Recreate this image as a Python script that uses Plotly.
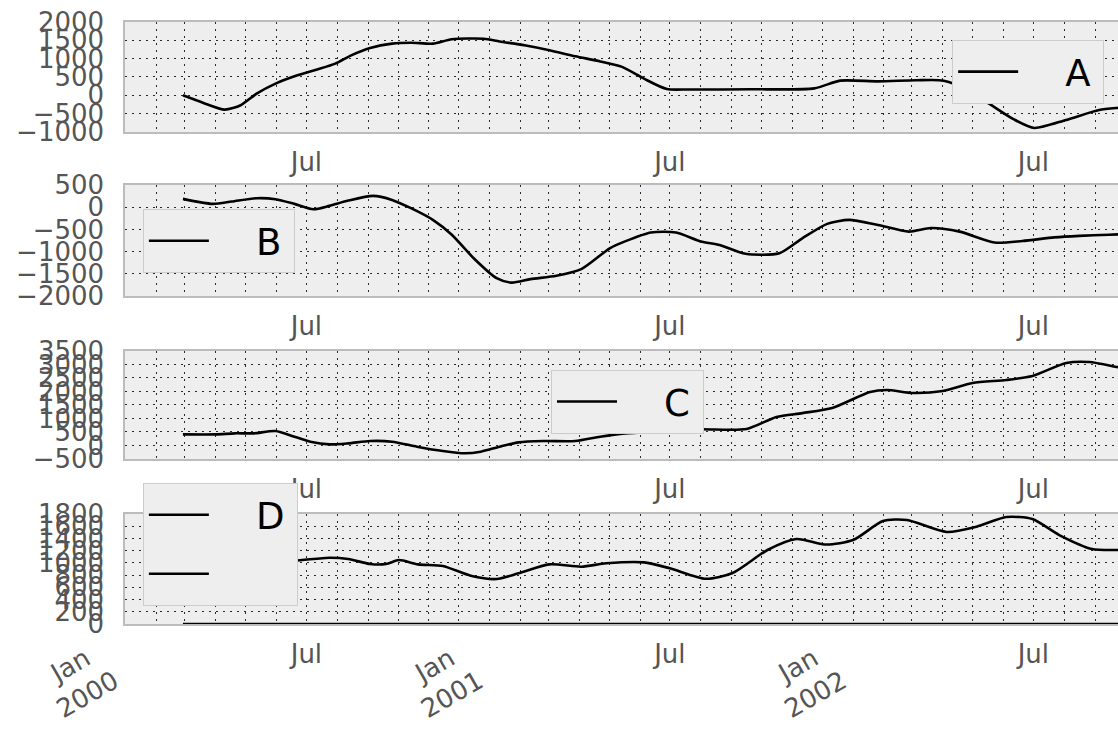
import pandas as pd
import plotly.graph_objects as go

START = "2000-01-01"

# ---- data (days since 2000-01-01, values) ----
A_days = [58, 78, 100, 116, 132, 151, 173, 192, 211, 227, 246, 268, 287, 309, 328, 360, 376, 401, 426,
          452, 477, 499, 521, 544, 566, 629, 692, 718, 756, 794, 822, 846, 871, 892, 913, 945, 978, 996, 999]
A_vals = [0, -200, -390, -270, 45, 320, 545, 700, 865, 1090, 1290, 1410, 1435, 1410, 1530, 1545, 1470, 1365, 1230,
          1065, 925, 775, 455, 170, 160, 165, 190, 400, 380, 410, 400, 150, -290, -650, -890, -670, -400, -345, -340]

B_days = [58, 88, 107, 132, 151, 170, 189, 205, 224, 249, 268, 287, 309, 328, 350, 373, 388, 407, 433, 458,
          487, 502, 528, 553, 578, 597, 623, 657, 680, 705, 727, 756, 787, 809, 838, 873, 901, 933, 958, 988, 999]
B_vals = [188, 75, 128, 203, 180, 75, -45, 30, 150, 255, 165, -22, -285, -620, -1150, -1600, -1700, -1620, -1545, -1395,
          -920, -770, -570, -570, -770, -850, -1050, -1035, -700, -375, -285, -400, -550, -470, -550, -795, -760, -680, -645, -620, -610]

C_days = [58, 91, 110, 129, 151, 170, 186, 205, 224, 246, 268, 293, 319, 341, 357, 376, 395, 420, 452, 477,
          502, 535, 577, 624, 654, 680, 710, 748, 765, 791, 821, 851, 885, 911, 945, 968, 996, 999]
C_vals = [412, 412, 450, 450, 535, 326, 141, 42, 80, 165, 141, -44, -205, -290, -230, -44, 116, 165, 165, 326,
          450, 520, 600, 611, 1055, 1200, 1389, 1981, 2055, 1944, 2018, 2315, 2426, 2574, 3055, 3092, 2907, 2890]

D_days = [58, 110, 140, 170, 205, 224, 246, 262, 275, 294, 319, 347, 373, 395, 426, 458, 483, 521, 547, 583,
          610, 645, 674, 704, 731, 761, 785, 825, 855, 885, 911, 938, 971, 996, 999]
D_vals = [1000, 1010, 1030, 1036, 1085, 1064, 982, 982, 1047, 976, 949, 791, 736, 829, 976, 938, 993, 1009, 911, 740,
          835, 1211, 1391, 1300, 1374, 1685, 1702, 1506, 1593, 1751, 1718, 1456, 1227, 1211, 1210]

Z_days = [58, 999]
Z_vals = [0, 0]

NAMES = ["A", "B", "C", "D"]
Y_RANGES = {"A": [-1000, 2000], "B": [-2000, 500], "C": [-500, 3500], "D": [0, 1800]}
Y_DTICK = {"A": 500, "B": 500, "C": 500, "D": 200}

JUL_TICKS = ["2000-07-01", "2001-07-01", "2002-07-01"]
JUL_TEXT = ["Jul", "Jul", "Jul"]
JAN_TICKS = ["2000-01-01", "2001-01-01", "2002-01-01"]
JAN_TEXT = ["Jan\u2002<br>2000", "Jan\u2002<br>2001", "Jan\u2002<br>2002"]
X_RANGE = ["1999-12-31 20:00", "2002-09-24"]


def to_dates(days):
    return pd.Timestamp(START) + pd.to_timedelta(days, unit="D")


def legend_label(name):
    # pad so the label sits where matplotlib's legend puts it
    return "  \u2002" + name + "\u2009"


FONT = "DejaVu Sans"
TICKCOL = "#555555"
GRIDCOL = "#2a2a2a"
GRIDDASH = "2px,5px"
EDGE = "#BCBCBC"
BG = "#EEEEEE"

fig = go.Figure()
series = [("A", A_days, A_vals, "x", "y", "legend"),
          ("B", B_days, B_vals, "x2", "y2", "legend2"),
          ("C", C_days, C_vals, "x3", "y3", "legend3"),
          ("D", D_days, D_vals, "x4", "y4", "legend4")]
for name, d, v, xa, ya, lg in series:
    fig.add_trace(go.Scatter(x=to_dates(d), y=v, name=legend_label(name), mode="lines", xaxis=xa, yaxis=ya,
                             legend=lg, legendgroup=name,
                             line=dict(color="black", width=2.6, shape="spline", smoothing=0.7)))
fig.add_trace(go.Scatter(x=to_dates(Z_days), y=Z_vals, name=legend_label(" "), mode="lines", xaxis="x5", yaxis="y4",
                         legend="legend4", legendgroup="zero", line=dict(color="black", width=2.6)))

domains = {"A": [0.8173, 1.0], "B": [0.5449, 0.7292], "C": [0.2741, 0.4535], "D": [0.0, 0.1827]}

common_x = dict(range=X_RANGE, type="date", tickmode="array", tickvals=JUL_TICKS, ticktext=JUL_TEXT,
                tickangle=0, ticks="outside", ticklen=6, tickcolor="rgba(0,0,0,0)",
                tickfont=dict(family=FONT, size=26, color=TICKCOL),
                showgrid=True, gridcolor=GRIDCOL, gridwidth=1, griddash=GRIDDASH,
                minor=dict(dtick="M1", tick0="2000-01-01", showgrid=True, gridcolor=GRIDCOL,
                           gridwidth=1, griddash=GRIDDASH, ticks=""),
                showline=True, linecolor=EDGE, linewidth=1.5, mirror=True,
                zeroline=False, automargin=False, domain=[0, 1])

layout = dict(width=1118, height=732, autosize=False,
              margin=dict(l=125, r=0, t=22, b=108),
              paper_bgcolor="white", plot_bgcolor=BG,
              font=dict(family=FONT, color="black"))

for i, k in enumerate(NAMES):
    sfx = "" if i == 0 else str(i + 1)
    lay_x = dict(common_x)
    lay_x["anchor"] = "y" + sfx
    layout["xaxis" + sfx] = lay_x
    layout["yaxis" + sfx] = dict(domain=domains[k], anchor="x" + sfx, range=Y_RANGES[k],
                                 tickmode="linear", tick0=0, dtick=Y_DTICK[k],
                                 ticks="outside", ticklen=14, tickcolor="rgba(0,0,0,0)",
                                 tickfont=dict(family=FONT, size=26, color=TICKCOL),
                                 showgrid=True, gridcolor=GRIDCOL, gridwidth=1, griddash=GRIDDASH,
                                 showline=True, linecolor=EDGE, linewidth=1.5, mirror=False,
                                 zeroline=False, automargin=False)

layout["xaxis5"] = dict(range=X_RANGE, type="date", overlaying="x4", anchor="y4", side="bottom",
                        tickmode="array", tickvals=JAN_TICKS, ticktext=JAN_TEXT, tickangle=-30,
                        ticks="outside", ticklen=2, tickcolor="rgba(0,0,0,0)", ticklabelshift=-28,
                        tickfont=dict(family=FONT, size=26, color=TICKCOL),
                        showgrid=False, showline=False, zeroline=False, automargin=False)

leg_common = dict(bgcolor=BG, bordercolor="#CCCCCC", borderwidth=1,
                  font=dict(family=FONT, size=37, color="black"),
                  xanchor="left", yanchor="top", itemwidth=60, xref="paper", yref="paper",
                  traceorder="grouped", tracegroupgap=8)
layout["legend"] = dict(leg_common, x=0.833, y=0.970)
layout["legend2"] = dict(leg_common, x=0.018, y=0.689)
layout["legend3"] = dict(leg_common, x=0.429, y=0.422)
layout["legend4"] = dict(leg_common, x=0.018, y=0.234)
layout["showlegend"] = True

fig.update_layout(**layout)
fig.write_html("out.html")
